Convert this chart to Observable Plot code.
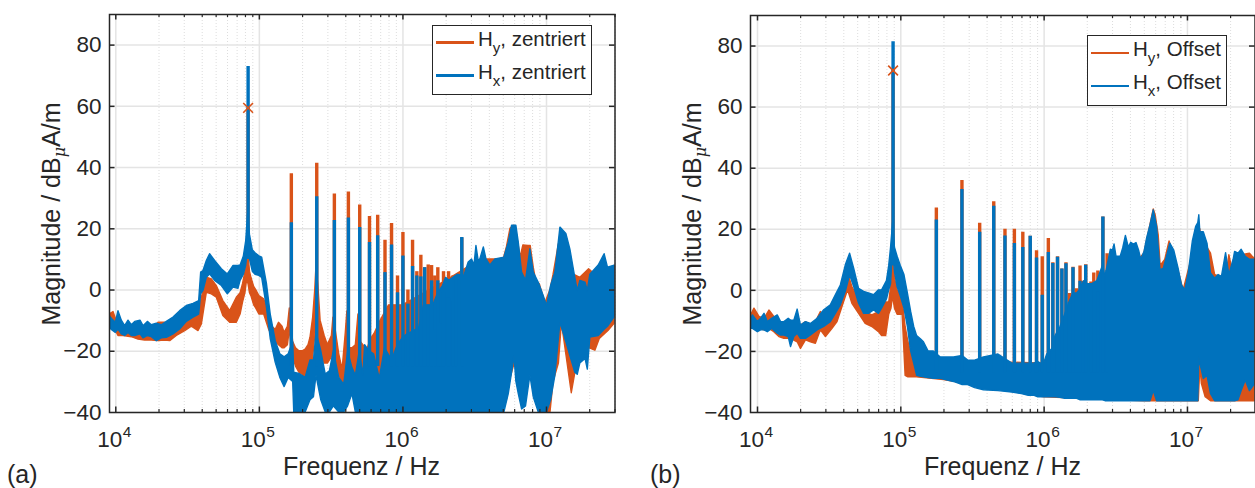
<!DOCTYPE html>
<html><head><meta charset="utf-8">
<script src="https://cdn.jsdelivr.net/npm/d3@7"></script>
<script src="https://cdn.jsdelivr.net/npm/@observablehq/plot@0.6"></script>
<style>
html,body{margin:0;padding:0;background:#fff;}
#root{position:relative;width:1255px;height:488px;overflow:hidden;font-family:"Liberation Sans",Arial,sans-serif;color:#262626;}
.chart{position:absolute;top:0;}
.t{position:absolute;white-space:nowrap;font-size:25px;line-height:1;}
.yl{transform:translate(-50%,-50%) rotate(-90deg);transform-origin:center;}
.yl sub{font-family:"DejaVu Serif","Liberation Serif",serif;font-style:italic;font-size:16px;vertical-align:-5px;line-height:0;}
.legend{position:absolute;background:#fff;border:1.2px solid #262626;box-sizing:border-box;}
.legend i{position:absolute;height:2.6px;left:3px;width:38px;}
.legend span{position:absolute;left:45.5px;font-size:20.5px;line-height:1;white-space:nowrap;}
.legend sub{font-size:15px;line-height:0;vertical-align:-7px;}
</style></head>
<body><div id="root"></div>
<script>
const yTicks=[-40,-20,0,20,40,60,80];
const decades=[1e4,1e5,1e6,1e7];
const exponents=["4","5","6","7"];
const minorTicks=[2e4,3e4,4e4,5e4,6e4,7e4,8e4,9e4,2e5,3e5,4e5,5e5,6e5,7e5,8e5,9e5,2e6,3e6,4e6,5e6,6e6,7e6,8e6,9e6,2e7,3e7];

// Panel (a), centred: envelope of each trace
const aHyFreq=[9040,9640,10440,11320,12930,14390,16010,17820,19840,22070,23920,26610,30440,33860,37710,39770,43060,46700,50530,56130,62630,69650,74000,77000,80000,82000,84000,86000,88000,92000,95000,100000,108000,117000,123000,130000,137000,145000,150000,158000,163000,172000,180000,190000,200000,210000,220000,227000,237000,245000,250000,258000,267000,285000,300000,320000,328000,340000,360000,380000,400000,410000,425000,445000,470000,490000,510000,530000,560000,600000,640000,700000,800000,1000000,2000000,3500000,4400000,5030000,5300000,5610000,5920000,6250000,6600000,6900000,7490000,7760000,8150000,8470000,8970000,9830000,10660000,11200000,12200000,12800000,13800000,15000000,15900000,17200000,19800000,21900000,23500000,27000000,30200000];
const aHyLow=[-12.9,-11.8,-15,-15,-15.4,-16.2,-16.5,-16.5,-16.7,-16.5,-16.7,-15,-13.4,-12,-13.4,-11.2,-0.9,-1.4,-2.5,-8.5,-10.7,-10.7,-8,-4,-1,3,2,-1,-2,-5,-6,-8,-8,-13,-15,-17,-18,-19,-19,-18,-13,-22,-25,-27,-27.6,-31,-29,-27,-22,-15,-10,-16,-21,-24,-24,-22,-20,-24,-27.6,-31,-31,-25,-28,-28,-30,-27,-30,-32,-36,-38,-40,-40,-40,-40,-40,-40,-40,-38.6,-36,-29,-25,-25,-20,-20,-20,-20,-30,-35,-38,-40,-40,-30,-24,-10.7,-21.6,-33.7,-27,-18,-19,-19.8,-16,-13.4,-10.7];
const aHyHigh=[-8,-7.2,-11.8,-12.3,-13.4,-14,-13.4,-13.4,-10.7,-10.7,-12.3,-9.6,-8.5,-8,-8.5,-2.5,4,3.5,1.3,-3.6,-6.9,-2.5,-1,2,6,14,12,6,4,1,0,-2,-3,-8,-12,-13,-10.7,-12,-14,-12,-6,-17,-19,-20,-20,-19.5,-18,-15.6,-9,0,8,1,-10,-15,-18,-15,-9,-13,-21,-26,-14,-7,-19,-19,-18,-8,-17,-18,-20,-16,-14,-10,-5,-5,3,10,10,10,14,20,21,17.7,10.6,14.6,14.4,14.4,7.3,3,1.9,-4.2,0,5,15,15,10,5,4.8,4,6.8,5,8,7,8];
const aHxFreq=[9040,9480,10000,10440,11010,11620,12260,12930,13650,14860,15600,16720,17820,19310,20910,22680,25240,28070,31250,34780,38080,39320,40800,43060,45370,49200,54800,60300,66100,71500,74000,78000,81000,83500,86000,90000,94000,100000,104600,113000,120000,130000,140000,150000,160000,172000,175000,190000,210000,227000,240000,250000,270000,290000,310000,330000,360000,390000,415000,445000,470000,500000,530000,545000,585000,630000,690000,750000,840000,920000,1000000,1070000,1200000,1300000,1400000,1500000,1630000,1760000,1900000,2000000,2100000,2400000,2680000,2870000,3030000,3150000,3250000,3370000,3460000,3660000,3820000,4070000,4410000,5090000,5460000,5760000,5980000,6170000,6410000,6760000,7200000,7720000,8150000,8830000,9570000,10080000,10760000,11530000,12500000,13750000,14660000,15870000,16500000,17200000,18700000,19400000,20200000,23100000,25400000,26800000,30200000];
const aHxLow=[-12.3,-13.2,-14,-12.9,-14.5,-15,-14,-15,-15,-14.5,-15.8,-15,-15.4,-16.7,-15.8,-15.6,-14.5,-12.9,-10.4,-9,-8,-1.4,-0.3,4,5.1,3,1.3,-1.4,0.8,0.4,3,5,8,14,10,6,5,4.6,4,-5.8,-16,-23.8,-28.7,-31.7,-28.7,-30,-40,-40,-40,-36,-35,-28,-36,-40,-40,-38,-40,-40,-38,-34,-40,-40,-40,-40,-40,-40,-40,-40,-40,-40,-40,-40,-40,-40,-40,-40,-40,-40,-40,-40,-40,-40,-40,-40,-40,-40,-40,-40,-40,-40,-40,-40,-40,-40,-34,-27,-21.6,-30,-34,-39,-38,-28,-35,-40,-40,-40,-36,-28,-10.7,-17,-21.6,-27,-27.7,-24,-22.5,-26,-15.5,-15,-13,-12,-8.5];
const aHxHigh=[-8.5,-9.6,-10.7,-6.9,-10,-11.8,-10,-11.5,-10.4,-10,-11.8,-10.4,-11.5,-11,-11.5,-10.4,-9,-6.9,-5.2,-4.5,-3.6,5.7,6.2,9.5,11.7,9.5,6.8,5.1,7.9,7.9,8,11,16,25,18,13,12,11,10.6,1.9,-8,-16.7,-21,-22,-21,-17,-27,-27.4,-28.7,-23,-23,-14,-20,-27.6,-26.5,-20,-28.7,-31,-20,-25.5,-28,-20,-28,-18,-20,-21,-29,-19,-23,-18,-15.6,-14.5,-13.4,-12.3,-5,-5,-5,-1,1.3,4,3,5,4.6,9,10,8,14.4,9.5,10,13.9,10,8,10,10.6,15.5,21,21,21,15.5,5.7,3,13.3,5.7,2.4,-2,-5.2,1.3,5.7,20.4,18.3,13.3,4,-0.3,3,2.4,-0.3,5,8,11.7,7.3,8];
const aSpikeFreq=[83500,167000,251000,333000,417000,500000,585000,667000,750000,833000,917000,1000000,1083000,1167000,1250000,1333000,1417000,1500000,1583000,1667000,1750000,1833000,1917000,2080000,2230000,2350000,2570000];
const aSpikeHy=[59.5,38,41.4,31.4,32,27.8,24,24.4,16.3,21.7,4.6,18.8,0,16.3,6,11.4,7.3,8.2,8,4.6,7.3,-1,6,6,4.6,3,17];
const aSpikeHx=[73,22,30.5,22.7,23.5,20.4,15.5,17.7,5.7,14.7,-0.9,11.1,-4.6,7.7,4.6,4.3,7.3,-5,3,-13,3,-11,-1,-2.5,-3.6,4.3,17.2];
const aSpikeBase=[10,-25,-25,-25,-25,-25,-25,-25,-25,-25,-25,-25,-25,-25,-25,-25,-25,-25,-25,-25,-25,-25,-25,-25,-25,-25,-25];

// Panel (b), with offset
const bHyFreq=[9040,9520,10320,11190,12110,13100,14210,15400,17140,19060,20100,21790,23600,25540,27680,30010,33390,36170,40220,42860,45940,51130,56850,63270,70400,74000,79000,83000,86000,88300,91000,95000,103000,108000,113000,118000,124000,130000,200000,1000000,5000000,5820000,6000000,6300000,6500000,7000000,7500000,8500000,9000000,9400000,11500000,12000000,12300000,12600000,13400000,14600000,15600000,18600000,19600000,21000000,21500000,24000000,27300000,28500000,30000000];
const bHyLow=[-12.6,-10.4,-12.6,-13.1,-12.6,-13.7,-15.3,-15.9,-15.9,-17,-19.2,-16.4,-17,-17.5,-13.1,-15.3,-12.6,-10.4,-3.8,0,-4.4,-7.7,-11,-12,-13.7,-15,-15,-8,-6,-2,-6,-8,-8,-28,-28.5,-28.5,-28.5,-28.5,-29.4,-35,-36.3,-36.3,-36.3,-36.3,-36.3,-36.3,-36.3,-36.3,-36.3,-36.3,-36.3,-36.3,-25,-30.6,-35,-36.3,-36.3,-36.3,-36.3,-36.3,-36.3,-36.3,-36.3,-36.3,-36.3];
const bHyHigh=[-8.2,-6,-8.7,-9.3,-6.6,-8.7,-10.4,-11.5,-11.5,-10.4,-11.5,-10.4,-11.5,-10.4,-7.1,-9.3,-8.2,-5.5,1.1,5.5,1.1,-3.3,-7.1,-8.2,-7.1,-6,-4,-4,2,11,4,0,-3,-12,-17,-20,-24,-28,-23,-24,12,26.5,24.6,18,8,10,16,8,3.3,0,16,20,20,15,15,12,5,4,11.5,5,10,11.5,12,11,10];
const bHxFreq=[9040,9290,10060,10600,11190,11800,12650,13840,14600,15400,16510,17140,18070,19060,20100,21790,23600,26260,29210,32480,35190,38140,41320,44260,47260,51130,55440,60020,65030,70400,74000,80000,83000,85500,88300,91000,95000,100000,106000,112000,118000,124000,130000,138000,145000,156000,170000,190000,206000,235000,270000,295000,330000,380000,480000,600000,700000,780000,850000,910000,950000,1000000,1050000,1100000,1150000,1200000,1300000,1400000,1500000,1600000,1700000,1800000,1900000,2000000,2150000,2350000,2570000,2680000,2760000,2920000,3020000,3100000,3200000,3420000,3560000,3720000,3900000,4050000,4230000,4410000,4600000,4760000,5020000,5230000,5520000,5820000,6140000,6480000,6830000,7200000,7590000,8090000,8680000,9160000,9650000,10200000,10900000,11500000,11900000,12100000,12300000,13000000,13800000,14600000,15600000,16500000,17400000,18600000,19600000,21000000,21500000,22700000,23900000,25500000,27300000,29300000,30000000];
const bHxLow=[-12.6,-12.6,-13.7,-13.1,-13.1,-13.7,-12.6,-14.2,-14.8,-14.8,-15.3,-18.6,-15.3,-14.2,-15.9,-15.9,-14.8,-13.1,-12,-10.4,-7.7,-4.9,-0.5,4.9,1.1,-4.4,-7.7,-7.7,-6.6,-7.7,-6,-3,0,2,14,6,1,-2,-6,-12,-20,-24,-28,-28.3,-28.5,-28.7,-29,-29,-29.4,-30,-31,-31,-32,-32.7,-33,-33.5,-34,-34.5,-34.5,-35,-35,-35,-35,-35,-35,-35,-35.2,-35.5,-35.5,-35.5,-35.5,-36,-36,-36,-36,-36,-36,-36.3,-36.3,-36.3,-36.3,-36.3,-36.3,-36.3,-36.3,-36.3,-36.3,-36.3,-36.3,-36.3,-36.3,-36.3,-36.3,-36.3,-36.3,-33,-36.3,-36.3,-36.3,-36.3,-36.3,-36.3,-36.3,-36.3,-36.3,-36.3,-36.3,-36.3,-36.3,-22,-24,-29,-28,-34,-36.3,-36.3,-36.3,-36.3,-36.3,-36.3,-36.3,-36,-33,-29.5,-33,-31,-30];
const bHxHigh=[-9.3,-8.2,-10.4,-9.3,-7.7,-10.4,-9.3,-8.2,-10.4,-10.4,-9.3,-9.9,-9.9,-6.3,-11.5,-10.4,-11,-9.3,-6.5,-4.9,-1.6,1.6,8.2,12,7.1,0.5,-0.5,-1,-1.6,0,0,3,8,14,22,14,11,8,5,-1,-7,-12,-15,-16,-17,-20,-20,-22,-22,-22,-21.5,-23,-23,-22,-21,-24,-24,-24,-24,-23.5,-24,-24,-21,-20,-19,-15,-12,-8,-4,-1,-1,0.5,3,2,2,3,8,4.4,7.6,13.3,13,15,11,11,13.7,17.8,14,15.6,15,15.5,13,10,12.6,17,21.3,26.2,20.8,6.6,7,11,15.3,13,7,1.6,0,5.5,16,20.8,22,24.6,19,19,15.3,5.5,3.8,5,4.4,12.2,5,10,12.6,12,13.3,11,10,10];
const bSpikeFreq=[88300,177000,267000,355000,445000,533000,620000,710000,800000,885000,970000,1070000,1150000,1240000,1330000,1420000,1500000,1590000,1680000,1780000,1860000,1950000,2120000,2220000,2370000,2570000,2750000];
const bSpikeHy=[72,27,36,22,29,20,20,19,17.7,13,11,17,9,11,7,9,-1,7.6,0.5,8,3,8.4,2.7,5.7,6.3,24,12];
const bSpikeHx=[81.4,23,33,19,27.5,17.8,15.3,14,17.7,10.6,-1.6,12.4,8.8,10.8,7,8.7,-4,7.4,-2,3,2,8.2,-7.6,1,-0.5,24,6.5];
const bSpikeBase=[8,-27,-27,-27,-27,-27,-27,-27,-27,-27,-27,-27,-27,-27,-27,-27,-27,-27,-27,-27,-27,-27,-27,-27,-27,-27,-27];

const markerA={f:83500,m:59.5};
const markerB={f:88300,m:72};
const orange="#D95319",blue="#0072BD",ink="#262626";

function rows(freq,low,high){return freq.map((f,i)=>({f,low:low[i],high:high[i]}));}
function spikes(freq,top,base){return freq.map((f,i)=>({f,top:top[i],base:base[i]}));}

function panel(o){
  const H=488,innerH=H-o.top-o.bottom;
  const W=o.width,innerW=W-o.left-o.right;
  const areaOpt=c=>({x:"f",y1:"low",y2:"high",fill:c,stroke:c,strokeWidth:1.4,curve:"linear",clip:true});
  const ruleOpt=c=>({x:"f",y1:"base",y2:"top",stroke:c,strokeWidth:3.4,clip:true});
  return Plot.plot({
    width:W,height:H,marginLeft:o.left,marginRight:o.right,marginTop:o.top,marginBottom:o.bottom,
    style:{fontFamily:'"Liberation Sans",Arial,sans-serif',fontSize:"22.5px",color:ink,background:"transparent",overflow:"visible"},
    x:{type:"log",domain:o.xdomain,axis:null},
    y:{domain:[-40,90],axis:null},
    marks:[
      Plot.ruleX(minorTicks,{x:d=>d,stroke:"#d9d9d9",strokeWidth:0.9,strokeDasharray:"1,2"}),
      Plot.ruleX(decades,{x:d=>d,stroke:"#e4e4e4",strokeWidth:1.5}),
      Plot.ruleY(yTicks,{y:d=>d,stroke:"#e4e4e4",strokeWidth:1.5}),
      Plot.areaY(o.hy,areaOpt(orange)),
      Plot.ruleX(o.hySpikes,ruleOpt(orange)),
      Plot.areaY(o.hx,areaOpt(blue)),
      Plot.ruleX(o.hxSpikes,ruleOpt(blue)),
      Plot.dot([o.marker],{x:"f",y:"m",symbol:"times",r:4.5,stroke:orange,strokeWidth:1.6}),
      Plot.ruleX(decades,{x:d=>d,insetTop:innerH-5.5,stroke:ink,strokeWidth:1.5}),
      Plot.ruleX(decades,{x:d=>d,insetBottom:innerH-5.5,stroke:ink,strokeWidth:1.5}),
      Plot.ruleX(minorTicks,{x:d=>d,insetTop:innerH-3,stroke:ink,strokeWidth:1.2}),
      Plot.ruleX(minorTicks,{x:d=>d,insetBottom:innerH-3,stroke:ink,strokeWidth:1.2}),
      Plot.ruleY(yTicks.slice(1),{y:d=>d,insetRight:innerW-5.5,stroke:ink,strokeWidth:1.5}),
      Plot.ruleY(yTicks.slice(1),{y:d=>d,insetLeft:innerW-5.5,stroke:ink,strokeWidth:1.5}),
      Plot.frame({stroke:ink,strokeWidth:1.5}),
      Plot.axisY(yTicks,{anchor:"left",tickSize:0,tickPadding:8,label:null,fontSize:22.5}),
      Plot.text(decades,{x:d=>d,text:()=>"10",frameAnchor:"bottom",lineAnchor:"bottom",textAnchor:"end",dx:6.5,dy:34,fontSize:22.5,fill:ink}),
      Plot.text(decades,{x:d=>d,text:(d,i)=>exponents[i],frameAnchor:"bottom",lineAnchor:"bottom",textAnchor:"start",dx:7,dy:24,fontSize:15.5,fill:ink})
    ]
  });
}

const root=document.getElementById("root");
function place(svg,left){svg.classList.add("chart");svg.style.left=left+"px";root.appendChild(svg);}
place(panel({width:630,left:109,right:15.5,top:14,bottom:76,xdomain:[9040,3e7],
  hy:rows(aHyFreq,aHyLow,aHyHigh),hx:rows(aHxFreq,aHxLow,aHxHigh),
  hySpikes:spikes(aSpikeFreq,aSpikeHy,aSpikeBase),hxSpikes:spikes(aSpikeFreq,aSpikeHx,aSpikeBase),marker:markerA}),0);
place(panel({width:615,left:110,right:0.5,top:15,bottom:76,xdomain:[8936,2.96e7],
  hy:rows(bHyFreq,bHyLow,bHyHigh),hx:rows(bHxFreq,bHxLow,bHxHigh),
  hySpikes:spikes(bSpikeFreq,bSpikeHy,bSpikeBase),hxSpikes:spikes(bSpikeFreq,bSpikeHx,bSpikeBase),marker:markerB}),640);

function addText(html,css,cls){const d=document.createElement("div");d.className="t "+(cls||"");d.style.cssText=css;d.innerHTML=html;root.appendChild(d);}
addText("Frequenz / Hz","left:283px;top:454px;");
addText("Frequenz / Hz","left:924px;top:454px;");
addText("(a)","left:7px;top:462px;");
addText("(b)","left:650px;top:462px;");
const yl='Magnitude / dB<sub>\u03BC</sub>A/m';
addText(yl,"left:51px;top:214px;","yl");
addText(yl,"left:692px;top:214px;","yl");

function legend(x,y,w,h,names){
  const d=document.createElement("div");d.className="legend";
  d.style.cssText=`left:${x}px;top:${y}px;width:${w}px;height:${h}px;`;
  d.innerHTML=names.map((n,i)=>`<i style="top:${[15.5,48.8][i]}px;background:${[orange,blue][i]}"></i><span style="top:${[3,36][i]}px">H<sub>${n[0]}</sub>, ${n[1]}</span>`).join("");
  root.appendChild(d);
}
legend(431.5,24.5,160,70.5,[["y","zentriert"],["x","zentriert"]]);
legend(1086.5,35,140,70.5,[["y","Offset"],["x","Offset"]]);
</script></body></html>
